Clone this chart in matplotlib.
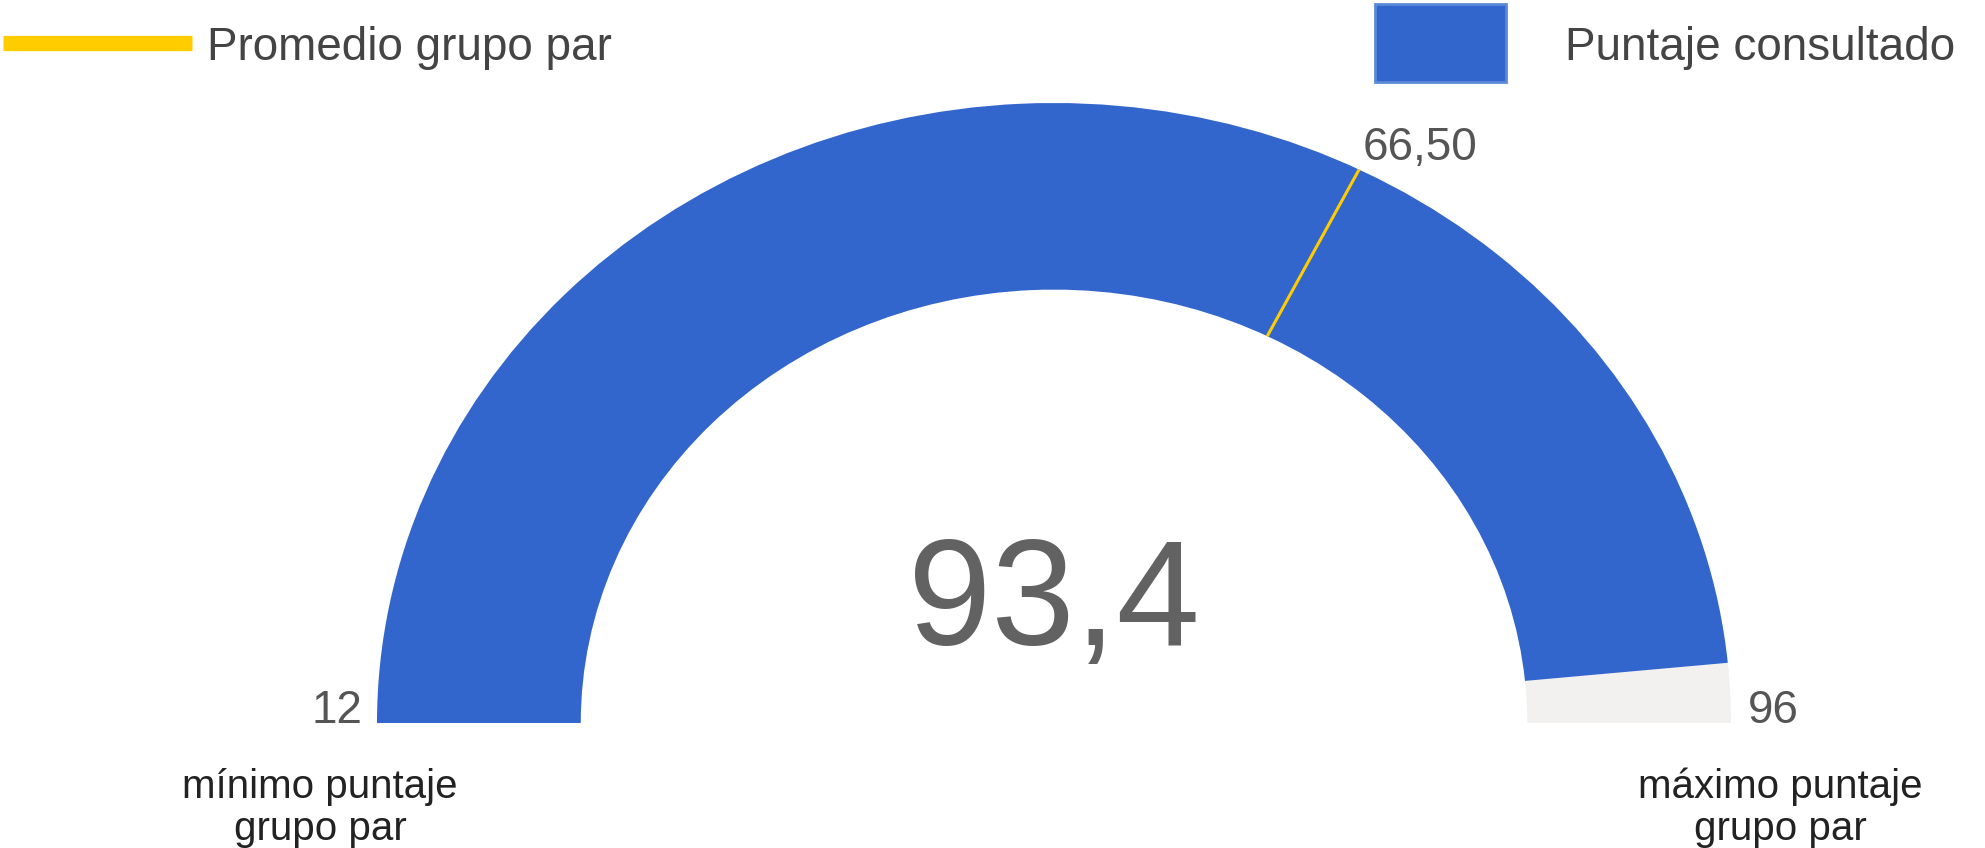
import numpy as np
import matplotlib
matplotlib.use("Agg")
import matplotlib.pyplot as plt
from matplotlib.patches import Wedge, Rectangle

plt.rcParams['font.family'] = ['Liberation Sans', 'DejaVu Sans']

# data
min_val = 12
max_val = 96
score = 93.4
peer_avg = 66.50
series_names = ['Promedio grupo par', 'Puntaje consultado']
min_label = 'mínimo puntaje\ngrupo par'
max_label = 'máximo puntaje\ngrupo par'

blue = '#3366cc'
yellow = '#ffcc00'
grey = '#f2f1f0'


def fmt(v, nd):
    return f"{v:.{nd}f}".replace('.', ',')


def angle(v):
    # 180 deg at min, 0 deg at max
    return 180.0 - (v - min_val) / (max_val - min_val) * 180.0


W, H = 1985, 848
fig = plt.figure(figsize=(W / 100, H / 100), dpi=100)

# gauge axes (units = outer radius, elliptical like the original)
cx, cy = 1054, 723
rx, ry = 677, 620
hole = 0.699
ax = fig.add_axes([0, 0, 1, 1])
ax.set_xlim(-cx / rx, (W - cx) / rx)
ax.set_ylim(-(H - cy) / ry, cy / ry)
ax.axis('off')

a_score = angle(score)
ax.add_patch(Wedge((0, 0), 1, 0, a_score, width=1 - hole, color=grey, lw=0))
ax.add_patch(Wedge((0, 0), 1, a_score, 180, width=1 - hole, color=blue, lw=0))

a_avg = np.radians(angle(peer_avg))
ax.plot([hole * np.cos(a_avg), np.cos(a_avg)], [hole * np.sin(a_avg), np.sin(a_avg)],
        color=yellow, lw=2.2, solid_capstyle='butt')

# text layer in pixel coords
tx = fig.add_axes([0, 0, 1, 1], facecolor='none')
tx.set_xlim(0, W)
tx.set_ylim(H, 0)
tx.axis('off')

num_col = '#555555'
tx.text(cx, 645, fmt(score, 1), fontsize=108, color='#626262', ha='center', va='baseline')
tx.text(362, 723, str(min_val), fontsize=33, color=num_col, ha='right', va='baseline')
tx.text(1748, 723, str(max_val), fontsize=33, color=num_col, ha='left', va='baseline')
tx.text(1363, 160, fmt(peer_avg, 2), fontsize=33, color=num_col, ha='left', va='baseline')

# bottom labels (baseline of last line)
tx.text(320, 840, min_label, fontsize=29, color='#222222', ha='center', va='baseline',
        linespacing=1.12, multialignment='center')
tx.text(1780, 840, max_label, fontsize=29, color='#222222', ha='center', va='baseline',
        linespacing=1.12, multialignment='center')

# legend
tx.plot([3, 192], [43, 43], color=yellow, lw=11, solid_capstyle='butt')
tx.text(207, 60, series_names[0], fontsize=33, color='#444444', ha='left', va='baseline')
tx.add_patch(Rectangle((1375, 4), 131, 78, facecolor=blue, edgecolor='#5a8ad8', lw=2))
tx.text(1565, 60, series_names[1], fontsize=33, color='#444444', ha='left', va='baseline')

fig.savefig('out.png', dpi=100)
